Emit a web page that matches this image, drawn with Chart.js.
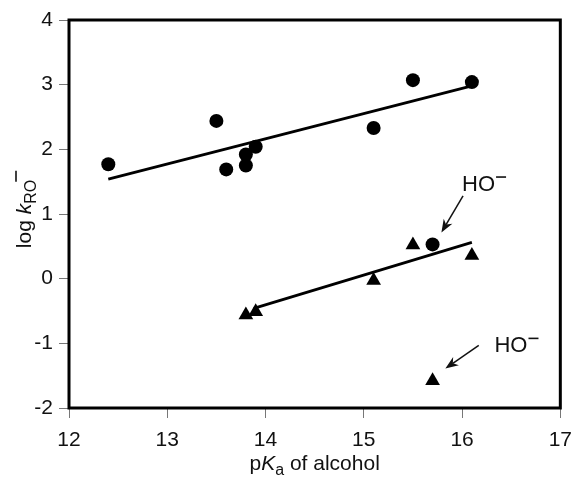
<!DOCTYPE html>
<html>
<head>
<meta charset="utf-8">
<script src="https://cdn.jsdelivr.net/npm/chart.js@4"></script>
<style>
  html, body { margin: 0; padding: 0; background: #fff; }
  #wrap { width: 582px; height: 477px; position: relative; }
</style>
</head>
<body>
<div id="wrap"><canvas id="chart"></canvas></div>
<script>
// alkoxide rate constants vs alcohol pKa
const circlePKa = [12.4, 13.5, 13.6, 13.8, 13.8, 13.9, 15.1, 15.5, 16.1, 15.7];
const circleLogK = [1.77, 2.44, 1.69, 1.75, 1.92, 2.04, 2.33, 3.07, 3.04, 0.53];
const trianglePKa = [13.8, 13.9, 15.1, 15.5, 16.1, 15.7];
const triangleLogK = [-0.56, -0.51, -0.03, 0.52, 0.36, -1.58];

// fitted lines, end points only
const upperFitPKa = [12.4, 16.1];
const upperFitLogK = [1.54, 2.98];
const lowerFitPKa = [13.88, 16.1];
const lowerFitLogK = [-0.46, 0.56];

const xTicks = [12, 13, 14, 15, 16, 17];
const yTicks = [-2, -1, 0, 1, 2, 3, 4];

const FONT = "'Liberation Sans', Arial, Helvetica, sans-serif";

// "HO−" labels and their arrows, in data units
const notes = [
  { text: [16.0, 1.355], from: [16.01, 1.28], to: [15.79, 0.715] },
  { text: [16.33, -1.14], from: [16.17, -1.03], to: [15.83, -1.39] },
];

function pts(xs, ys) {
  return xs.map((x, i) => ({ x, y: ys[i] }));
}

// draws a run of text pieces (normal / italic / sub) along a baseline
function richWidth(ctx, parts) {
  let w = 0;
  parts.forEach(p => { ctx.font = p.font; w += ctx.measureText(p.t).width; });
  return w;
}
function drawRich(ctx, parts, x, y) {
  let cx = x;
  parts.forEach(p => {
    ctx.font = p.font;
    ctx.fillText(p.t, cx, y + (p.dy || 0));
    cx += ctx.measureText(p.t).width;
  });
}
function superMinus(ctx, x, y, w) {
  ctx.save();
  ctx.lineWidth = 1.6;
  ctx.beginPath();
  ctx.moveTo(x, y);
  ctx.lineTo(x + w, y);
  ctx.stroke();
  ctx.restore();
}

const decor = {
  id: "decor",
  afterDatasetsDraw(chart) {
    const { ctx, chartArea: a, scales } = chart;
    const sx = scales.x, sy = scales.y;
    ctx.save();
    // frame
    ctx.strokeStyle = "#000";
    ctx.lineWidth = 3;
    ctx.strokeRect(a.left, a.top, a.right - a.left, a.bottom - a.top);

    // HO- notes
    ctx.fillStyle = "#111";
    ctx.strokeStyle = "#111";
    ctx.textBaseline = "alphabetic";
    notes.forEach(n => {
      const tx = sx.getPixelForValue(n.text[0]);
      const ty = sy.getPixelForValue(n.text[1]);
      ctx.font = "22px " + FONT;
      ctx.fillText("HO", tx, ty);
      const w = ctx.measureText("HO").width;
      superMinus(ctx, tx + w + 1, ty - 14, 10);

      const x1 = sx.getPixelForValue(n.from[0]), y1 = sy.getPixelForValue(n.from[1]);
      const x2 = sx.getPixelForValue(n.to[0]), y2 = sy.getPixelForValue(n.to[1]);
      const ang = Math.atan2(y2 - y1, x2 - x1);
      const hl = 13, hw = 5;
      ctx.lineWidth = 1.5;
      ctx.beginPath();
      ctx.moveTo(x1, y1);
      ctx.lineTo(x2 - Math.cos(ang) * hl * 0.7, y2 - Math.sin(ang) * hl * 0.7);
      ctx.stroke();
      ctx.beginPath();
      ctx.moveTo(x2, y2);
      ctx.lineTo(x2 - Math.cos(ang) * hl - Math.sin(ang) * hw, y2 - Math.sin(ang) * hl + Math.cos(ang) * hw);
      ctx.lineTo(x2 - Math.cos(ang) * hl * 0.7, y2 - Math.sin(ang) * hl * 0.7);
      ctx.lineTo(x2 - Math.cos(ang) * hl + Math.sin(ang) * hw, y2 - Math.sin(ang) * hl - Math.cos(ang) * hw);
      ctx.closePath();
      ctx.fill();
    });

    // x title: pKa of alcohol
    const xParts = [
      { t: "p", font: "21px " + FONT },
      { t: "K", font: "italic 21px " + FONT },
      { t: "a", font: "16px " + FONT, dy: 5 },
      { t: " of alcohol", font: "21px " + FONT },
    ];
    const xw = richWidth(ctx, xParts);
    drawRich(ctx, xParts, (a.left + a.right) / 2 - xw / 2, 470);

    // y title: log kRO-
    const yParts = [
      { t: "log ", font: "21px " + FONT },
      { t: "k", font: "italic 21px " + FONT },
      { t: "RO", font: "16px " + FONT, dy: 5 },
    ];
    const yw = richWidth(ctx, yParts) + 10;
    ctx.translate(31, (a.top + a.bottom) / 2 - 5);
    ctx.rotate(-Math.PI / 2);
    drawRich(ctx, yParts, -yw / 2, 0);
    superMinus(ctx, -yw / 2 + yw - 12, -15, 11);
    ctx.restore();
  },
};

new Chart(document.getElementById("chart"), {
  type: "scatter",
  data: {
    datasets: [
      { type: "line", data: pts(upperFitPKa, upperFitLogK), borderColor: "#000", borderWidth: 2.8, pointRadius: 0, fill: false },
      { type: "line", data: pts(lowerFitPKa, lowerFitLogK), borderColor: "#000", borderWidth: 2.8, pointRadius: 0, fill: false },
      { data: pts(circlePKa, circleLogK), pointStyle: "circle", pointRadius: 7, backgroundColor: "#000", borderWidth: 0 },
      { data: pts(trianglePKa, triangleLogK), pointStyle: "triangle", pointRadius: 8.5, backgroundColor: "#000", borderWidth: 0 },
    ],
  },
  options: {
    responsive: true,
    maintainAspectRatio: false,
    animation: false,
    layout: { padding: { top: 20, right: 18, left: 0, bottom: 0 }, autoPadding: false },
    plugins: { legend: { display: false }, tooltip: { enabled: false } },
    scales: {
      x: {
        type: "linear", min: 12, max: 17,
        afterBuildTicks: (s) => { s.ticks = xTicks.map(v => ({ value: v })); },
        afterFit: (s) => { s.height = 69; },
        ticks: { color: "#111", font: { family: FONT, size: 21 }, padding: 10, maxRotation: 0 },
        grid: { drawOnChartArea: false, drawTicks: true, tickLength: 10, color: "#777", lineWidth: 1 },
        border: { display: false },
      },
      y: {
        type: "linear", min: -2, max: 4,
        afterBuildTicks: (s) => { s.ticks = yTicks.map(v => ({ value: v })); },
        afterFit: (s) => { s.width = 69; },
        ticks: { color: "#111", font: { family: FONT, size: 21 }, padding: 6 },
        grid: { drawOnChartArea: false, drawTicks: true, tickLength: 10, color: "#777", lineWidth: 1 },
        border: { display: false },
      },
    },
  },
  plugins: [decor],
});
</script>
</body>
</html>
